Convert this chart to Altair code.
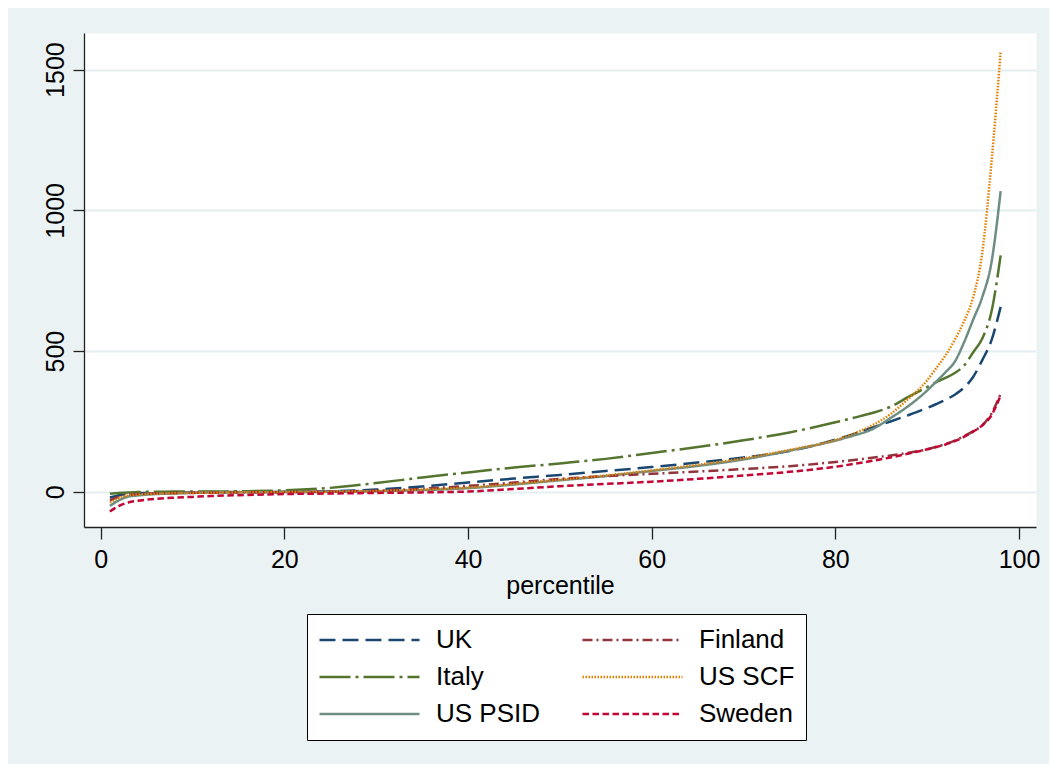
import altair as alt
import pandas as pd

percentile = [1, 2, 3, 4, 5, 6, 8, 10, 12, 15, 20, 25, 30, 35, 40, 45, 50, 55, 60, 65,
              70, 75, 80, 82, 84, 86, 88, 90, 91, 92, 93, 94, 95, 96, 97, 98]

uk = [-20, -12, -7, -5, -4, -3, -2, -2, -1, -1, 0, 2, 8, 19, 33, 47, 60, 74, 88, 104,
      122, 145, 185, 205, 228, 250, 273, 298, 312, 327, 345, 370, 408, 468, 538, 657]
finland = [-30, -18, -11, -8, -6, -5, -4, -3, -3, -2, -1, 1, 4, 11, 21, 33, 46, 56, 64, 72,
           81, 91, 106, 113, 121, 129, 139, 151, 160, 170, 182, 198, 215, 236, 278, 348]
italy = [-7, -4, -2, -1, 0, 0, 1, 1, 1, 2, 5, 14, 31, 51, 69, 86, 101, 117, 138, 159,
         183, 211, 247, 263, 280, 302, 338, 372, 390, 405, 422, 448, 495, 545, 640, 840]
us_scf = [-38, -22, -13, -10, -8, -7, -5, -4, -3, -2, -1, 0, 3, 8, 15, 28, 43, 58, 76, 96,
          119, 149, 184, 207, 236, 276, 332, 396, 440, 485, 540, 605, 690, 850, 1170, 1563]
us_psid = [-50, -30, -17, -13, -10, -8, -6, -4, -3, -2, -1, 0, 2, 6, 13, 26, 41, 56, 74, 92,
           115, 146, 182, 200, 222, 262, 306, 360, 392, 425, 462, 530, 611, 692, 815, 1068]
sweden = [-70, -50, -38, -32, -28, -25, -21, -18, -15, -12, -8, -6, -4, -2, 1, 10, 20, 28, 36, 46,
          58, 71, 89, 99, 110, 122, 136, 151, 159, 168, 180, 195, 214, 236, 272, 343]

# legend is filled column by column: UK, Italy, US PSID | Finland, US SCF, Sweden
series_names = ["UK", "Italy", "US PSID", "Finland", "US SCF", "Sweden"]
series_values = [uk, italy, us_psid, finland, us_scf, sweden]
colors = ["#1A476F", "#55752F", "#6E8E84", "#90353B", "#E37E00", "#C10534"]
dashes = [[16, 7], [31, 5, 3, 5], [1, 0], [10, 4, 2, 4], [1.5, 1.5], [6.5, 3.5]]

rows = []
for name, vals in zip(series_names, series_values):
    for p, v in zip(percentile, vals):
        rows.append({"percentile": p, "value": v, "series": name})
df = pd.DataFrame(rows)

FONT = "Liberation Sans"


def make_legend():
    return alt.Legend(title=None, orient="none", legendX=223, legendY=581,
                      columns=2, symbolType="stroke", symbolSize=10000,
                      symbolStrokeWidth=2.5, clipHeight=30,
                      labelFontSize=26, labelFont=FONT, labelColor="black",
                      labelOffset=15, rowPadding=7, columnPadding=40,
                      padding=11, fillColor="white", strokeColor="black")


chart = alt.Chart(df).mark_line(strokeWidth=2.5, interpolate="monotone").encode(
    x=alt.X("percentile:Q",
            scale=alt.Scale(domain=[-1.82, 101.85], nice=False, zero=False),
            axis=alt.Axis(values=[0, 20, 40, 60, 80, 100], title="percentile",
                          grid=False, tickSize=12, labelPadding=8, titlePadding=1,
                          labelFontSize=25, titleFontSize=25, titleFontWeight="normal",
                          labelColor="black", titleColor="black",
                          domainColor="#222222", tickColor="#222222",
                          domainWidth=1.3, tickWidth=1.3, labelFont=FONT, titleFont=FONT)),
    y=alt.Y("value:Q",
            scale=alt.Scale(domain=[-125, 1630], nice=False, zero=False),
            axis=alt.Axis(values=[0, 500, 1000, 1500], title=None, format="d",
                          grid=True, gridColor="#E4EEF0", gridWidth=1.8,
                          tickSize=11, labelPadding=5, labelAngle=270,
                          labelAlign="center", labelBaseline="bottom",
                          labelFontSize=25, labelColor="black", labelFont=FONT,
                          domainColor="#222222", tickColor="#222222",
                          domainWidth=1.3, tickWidth=1.3)),
    color=alt.Color("series:N",
                    scale=alt.Scale(domain=series_names, range=colors),
                    sort=series_names,
                    legend=make_legend()),
    strokeDash=alt.StrokeDash("series:N",
                              scale=alt.Scale(domain=series_names, range=dashes),
                              sort=series_names,
                              legend=make_legend()),
).properties(
    width=952,
    height=494,
    padding={"left": 76, "top": 25, "right": 13, "bottom": 237},
    autosize=alt.AutoSizeParams(type="none"),
).configure(
    background="#EAF2F3",
).configure_view(
    fill="white",
    stroke="transparent",
)

chart.save("out.html", embed_options={"renderer": "svg", "actions": False})
